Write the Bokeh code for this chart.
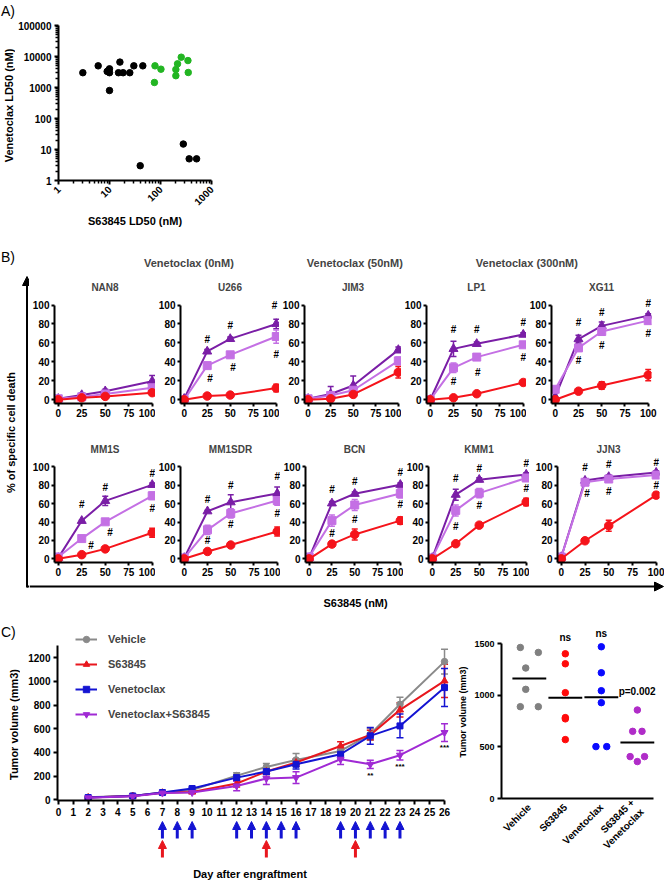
import math
from bokeh.plotting import figure
from bokeh.layouts import row, column
from bokeh.models import (Range1d, FixedTicker, Legend, LegendItem, Whisker,
                          ColumnDataSource, TeeHead, NormalHead, Arrow, NumeralTickFormatter)
from bokeh.core.properties import value
from bokeh.embed import file_html
from bokeh.resources import INLINE

FONT = "Liberation Sans"

# ---------------- Panel A data ----------------
a_black_x = [3, 6, 9, 9.5, 10, 10, 10, 16, 15, 18.5, 25, 30, 45, 40, 280, 365, 510]
a_black_y = [3000, 5000, 3300, 3500, 4000, 3000, 800, 6600, 3000, 3000, 3000, 5000, 5000, 3, 15, 5, 5]
a_green_x = [78, 102, 76, 200, 216, 200, 255, 345, 350]
a_green_y = [5000, 3900, 1450, 3800, 5800, 2400, 9500, 7400, 3050]
a_xticks = [1, 10, 100, 1000]
a_yticks = [1, 10, 100, 1000, 10000, 100000]

# ---------------- Panel B data ----------------
conc = [0, 25, 50, 100]
b_top = ["NAN8", "U266", "JIM3", "LP1", "XG11"]
b_bottom = ["MM1S", "MM1SDR", "BCN", "KMM1", "JJN3"]
b_labels = ["Venetoclax (0nM)", "Venetoclax (50nM)", "Venetoclax (300nM)"]
b_xticks = [0, 25, 50, 75, 100]
b_yticks = [0, 20, 40, 60, 80, 100]

ven0 = {
    "NAN8": [0, 2, 3.5, 7.4], "U266": [0, 3.9, 4.9, 12.3], "JIM3": [0, 1, 5.6, 29],
    "LP1": [0, 2, 6.3, 18.2], "XG11": [0, 9, 15, 26], "MM1S": [0, 4.5, 10.8, 28.3],
    "MM1SDR": [0, 8, 15, 29.7], "BCN": [0, 16, 26.5, 41.5], "KMM1": [0, 16.4, 36.6, 61.7],
    "JJN3": [0, 19.6, 36, 69.2]}
ven50 = {
    "NAN8": [1, 3, 6, 12.6], "U266": [0, 36, 47.4, 66.7], "JIM3": [1, 4.5, 10, 41],
    "LP1": [0, 33.7, 45, 58], "XG11": [11, 54.7, 72, 83.5], "MM1S": [2, 22, 40.2, 68.5],
    "MM1SDR": [1, 31.5, 49.3, 63.3], "BCN": [2, 41.5, 58.5, 71], "KMM1": [1, 52.6, 71.4, 87.8],
    "JJN3": [2, 83.2, 86.7, 91]}
ven300 = {
    "NAN8": [1, 5, 9, 19.6], "U266": [1, 51, 64.2, 80], "JIM3": [1, 6, 15, 52.6],
    "LP1": [0, 53.7, 59, 68.8], "XG11": [3, 64, 78, 88.8], "MM1S": [1, 41.3, 63, 80.4],
    "MM1SDR": [1, 51.7, 61.5, 71], "BCN": [1, 60.3, 70.7, 80.5], "KMM1": [1, 69.7, 86, 91.6],
    "JJN3": [2, 85, 89, 93.7]}
ven0_err = {
    "NAN8": [0, 1, 1, 2], "U266": [0, 1, 1, 4], "JIM3": [0, 1, 2, 6], "LP1": [0, 1, 1, 1],
    "XG11": [0, 2, 4, 6], "MM1S": [0, 1, 1, 5], "MM1SDR": [0, 1, 1, 5], "BCN": [0, 2, 6, 4],
    "KMM1": [0, 2, 2, 4], "JJN3": [0, 2, 6, 3]}
ven50_err = {
    "NAN8": [0, 1, 2, 3], "U266": [0, 3, 3, 7], "JIM3": [0, 3, 4, 4], "LP1": [0, 5, 2, 2],
    "XG11": [0, 2, 4, 3], "MM1S": [0, 3, 2, 4], "MM1SDR": [0, 5, 5, 5], "BCN": [0, 6, 6, 5],
    "KMM1": [0, 6, 5, 3], "JJN3": [0, 2, 2, 2]}
ven300_err = {
    "NAN8": [0, 2, 2, 6], "U266": [0, 2, 2, 5], "JIM3": [0, 8, 10, 3], "LP1": [0, 8, 2, 2],
    "XG11": [0, 4, 4, 2], "MM1S": [0, 1, 5, 2], "MM1SDR": [0, 1, 8, 7], "BCN": [0, 2, 2, 2],
    "KMM1": [0, 6, 2, 2], "JJN3": [0, 2, 2, 2]}
hash_x = {
    "U266": [25, 28, 50, 53, 98, 100], "LP1": [25, 25, 50, 51, 100, 100],
    "XG11": [25, 25, 50, 50, 100, 100], "MM1S": [25, 35, 50, 55, 100, 100],
    "MM1SDR": [25, 25, 50, 50, 100, 100], "BCN": [25, 25, 50, 50, 100, 100],
    "KMM1": [25, 25, 50, 50, 100, 100], "JJN3": [25, 27, 50, 50, 100, 100]}
hash_y = {
    "U266": [64, 22, 78, 34, 99, 48], "LP1": [74, 19, 74, 29, 82, 45],
    "XG11": [82, 41, 92, 57, 102, 69.5], "MM1S": [59, 15, 78, 29, 93, 54.5],
    "MM1SDR": [64, 20, 80, 37, 89.5, 49], "BCN": [75, 28, 84, 43, 94, 58.5],
    "KMM1": [87, 35, 98, 58, 104, 76], "JJN3": [99, 71, 102, 73, 105, 80]}

# ---------------- Panel C data ----------------
days = [2, 5, 7, 9, 12, 14, 16, 19, 21, 23, 26]
c_labels = ["Vehicle", "S63845", "Venetoclax", "Venetoclax+S63845"]
vehicle = [22, 34, 62, 84, 205, 278, 337, 413, 553, 806, 1166]
vehicle_err = [5, 5, 8, 10, 25, 30, 55, 40, 50, 60, 105]
s63845 = [20, 32, 60, 67, 138, 239, 315, 455, 548, 759, 1003]
s63845_err = [5, 5, 8, 10, 30, 25, 30, 35, 40, 60, 140]
venetoclax = [20, 33, 62, 96, 188, 239, 300, 385, 540, 624, 947]
venetoclax_err = [5, 5, 8, 10, 25, 25, 40, 40, 70, 100, 160]
combo = [18, 30, 58, 62, 118, 180, 188, 343, 300, 377, 568]
combo_err = [5, 5, 8, 10, 40, 50, 50, 45, 35, 40, 75]
c_day_ticks = list(range(27))
c_yticks = [0, 200, 400, 600, 800, 1000, 1200]
blue_dose_days = [7, 8, 9, 12, 13, 14, 15, 16, 19, 20, 21, 22, 23]
red_dose_days = [7, 14, 20]
sig_days = [21, 23, 26]
sig_vals = [202, 278, 438]
sig_text = ["**", "***", "***"]

d_categories = ["Vehicle", "S63845", "Venetoclax", "S63845 +\nVenetoclax"]
d_vehicle = [1464, 1416, 1265, 1058, 890, 890]
d_s63845 = [1403, 1306, 1026, 784, 772, 571]
d_venetoclax = [1471, 1219, 1045, 929, 503, 503]
d_combo = [858, 651, 651, 406, 406, 358]
d_means = [1163, 977, 982, 544]
d_yticks = [0, 500, 1000, 1500]
d_stats = ["ns", "ns", "p=0.002"]
d_stat_y = [1561, 1600, 1038]
# horizontal spread of coincident dots (layout only)
d_spread = [[-0.25, 0.25, -0.1, -0.1, -0.25, 0.25], [0, 0, 0, 0, 0, 0],
            [0, 0, 0, 0, -0.15, 0.15], [0, -0.13, 0.13, -0.2, 0.2, 0]]

# ---------------- colours ----------------
GREEN = "#22b522"
B_RED, B_LIGHT, B_DARK = "#f5141b", "#c470e4", "#7a1ea6"
C_GRAY, C_RED, C_BLUE, C_PURPLE = "#8a8a8a", "#e8171e", "#1414d2", "#a02ad4"
D_COLORS = ["#808080", "#ff0a0a", "#0a0aff", "#b02cc8"]

# ---------------- layout helpers (pixel geometry of the page) ----------------


def PX(v):
    return int(round(v))


def PY(v):
    return int(round(v))


def make_fig(box, frame, **kw):
    x0, y0, x1, y1 = box
    fl, ft, fr, fb = frame
    p = figure(width=PX(x1) - PX(x0), height=PY(y1) - PY(y0),
               min_border_left=PX(fl) - PX(x0), min_border_right=PX(x1) - PX(fr),
               min_border_top=PY(ft) - PY(y0), min_border_bottom=PY(y1) - PY(fb),
               output_backend="svg", toolbar_location=None, **kw)
    p.outline_line_color = None
    p.background_fill_color = None
    p.border_fill_color = None
    for g in p.grid:
        g.visible = False
    return p


def deco_fig(box):
    x0, y0, x1, y1 = box
    return make_fig(box, box, x_range=Range1d(x0, x1), y_range=Range1d(y1, y0),
                    x_axis_location=None, y_axis_location=None)


def txt(p, x, y, s, size="11px", bold=True, align="center", baseline="middle", angle=0.0):
    p.text(x=[x], y=[y], text=[s], angle=angle, text_font=value(FONT),
           text_font_style="bold" if bold else "normal", text_font_size=size,
           text_align=align, text_baseline=baseline, text_color="black")


def style_axes(p, tick_size="10px", label_size="11px", tick_out=4, standoff=3):
    for ax in p.axis:
        ax.axis_line_width = 2
        ax.axis_line_color = "black"
        ax.major_tick_line_width = 2
        ax.major_tick_line_color = "black"
        ax.major_tick_out = tick_out
        ax.major_tick_in = 0
        ax.minor_tick_line_color = None
        ax.major_label_standoff = standoff
        ax.major_label_text_font = FONT
        ax.major_label_text_font_style = "bold"
        ax.major_label_text_font_size = tick_size
        ax.major_label_text_color = "black"
        ax.axis_label_text_font = FONT
        ax.axis_label_text_font_style = "bold"
        ax.axis_label_text_font_size = label_size
        ax.axis_label_text_color = "black"
        ax.axis_label_standoff = 3


def whisker(p, xs, vals, errs, color, size=6, width=1.5):
    xs2 = [x for x, e in zip(xs, errs) if e > 0]
    up = [v + e for v, e in zip(vals, errs) if e > 0]
    lo = [v - e for v, e in zip(vals, errs) if e > 0]
    if not xs2:
        return
    src = ColumnDataSource(dict(x=xs2, u=up, l=lo))
    p.add_layout(Whisker(source=src, base="x", upper="u", lower="l", line_color=color,
                         line_width=width, level="underlay",
                         upper_head=TeeHead(size=size, line_color=color, line_width=width),
                         lower_head=TeeHead(size=size, line_color=color, line_width=width)))


def minor_log(lo, hi):
    out = []
    d = lo
    while d < hi:
        out += [m * d for m in range(2, 10)]
        d *= 10
    return out


# ================= Panel A =================
sa = deco_fig((0, 0, 15, 245))
txt(sa, 0.5, 2, "A)", size="14px", bold=False, align="left", baseline="top")
txt(sa, 8, 105, "Venetoclax LD50 (nM)", angle=math.pi / 2)

pa = make_fig((15, 0, 664, 245), (57, 25, 211, 180), x_axis_type="log", y_axis_type="log",
              x_range=Range1d(1, 1000), y_range=Range1d(1, 100000))
pa.scatter(a_black_x, a_black_y, size=6.5, color="black")
pa.scatter(a_green_x, a_green_y, size=6.5, color=GREEN)
style_axes(pa)
pa.xaxis.ticker = FixedTicker(ticks=a_xticks, minor_ticks=minor_log(1, 1000))
pa.yaxis.ticker = FixedTicker(ticks=a_yticks, minor_ticks=minor_log(1, 100000))
for ax in pa.axis:
    ax.formatter = NumeralTickFormatter(format="0")
    ax.minor_tick_line_color = "black"
    ax.minor_tick_line_width = 1.5
    ax.minor_tick_out = 3
    ax.minor_tick_in = 0
for ax in pa.xaxis:
    ax.major_label_orientation = math.pi / 4
    ax.axis_label = "S63845 LD50 (nM)"
band_a = row(column(sa), column(pa))

# ================= Panel B =================
K = 0.95


def b_fig(name, x0, box_l, box_r, y100, box_t, box_b):
    zero = y100 + 100 * K
    frame = (x0 - 4 * K, y100 - 9 * K, min(box_r, x0 + 103.5 * K), zero + 4 * K)
    p = make_fig((box_l, box_t, box_r, box_b), frame,
                 x_range=Range1d(-4, 103.5), y_range=Range1d(-4, 109), title=name)
    p.title.align = "center"
    p.title.text_font = FONT
    p.title.text_font_style = "bold"
    p.title.text_font_size = "10px"
    p.title.standoff = 7
    style_axes(p, tick_out=3, standoff=2)
    p.xaxis.ticker = FixedTicker(ticks=b_xticks)
    p.yaxis.ticker = FixedTicker(ticks=b_yticks)
    p.xaxis.bounds = (-4, 100)
    p.yaxis.bounds = (-4, 100)
    series = [(ven300[name], ven300_err[name], B_DARK, "triangle", 9),
              (ven50[name], ven50_err[name], B_LIGHT, "square", 8),
              (ven0[name], ven0_err[name], B_RED, "circle", 8.5)]
    for vals, errs, col, mk, sz in series:
        whisker(p, conc, vals, errs, col, size=6)
        p.line(conc, vals, color=col, line_width=2)
        p.scatter(conc, vals, marker=mk, size=sz, color=col)
    if name in hash_x:
        p.text(hash_x[name], hash_y[name], text=["#"] * len(hash_x[name]),
               text_font=value(FONT), text_font_style="bold", text_font_size="10px",
               text_align="center", text_baseline="middle", text_color="black")
    return p


def b_row(names, x0s, y100s, box_t, box_b):
    bounds = [29] + [x + 103.5 * K for x in x0s[:-1]] + [664]
    return [b_fig(n, x0, bounds[i], bounds[i + 1], y100s[i], box_t, box_b)
            for i, (n, x0) in enumerate(zip(names, x0s))]


top_figs = b_row(b_top, [57, 181, 303, 428, 553], [304.5] * 5, 270, 421)
bot_figs = b_row(b_bottom, [57, 182, 305, 431, 561], [464, 463, 463, 463, 467], 421, 581)

# legend strip
lg = deco_fig((29, 245, 664, 270))
lrs = [lg.line(x=[], y=[], color=c, line_width=4) for c in (B_RED, B_LIGHT, B_DARK)]
lg.add_layout(Legend(items=[LegendItem(label=t, renderers=[r]) for t, r in zip(b_labels, lrs)],
                     orientation="horizontal", location=(PX(108) - PX(29), 0),
                     glyph_width=25, glyph_height=14, label_standoff=11, spacing=37,
                     padding=0, margin=0, border_line_color=None, background_fill_alpha=0,
                     label_text_font=FONT, label_text_font_style="bold", label_text_font_size="11px"))

# left strip with vertical arrow
ls = deco_fig((0, 245, 29, 612))
txt(ls, 0.5, 248, "B)", size="14px", bold=False, align="left", baseline="top")
ls.add_layout(Arrow(x_start=26.5, y_start=587, x_end=26.5, y_end=276, line_width=2, line_color="black",
                    end=NormalHead(size=9, fill_color="black", line_color="black", line_width=1)))
ls.segment(x0=[26.5], y0=[586], x1=[29], y1=[586], line_width=2, color="black")
txt(ls, 10.5, 432, "% of specific cell death", angle=math.pi / 2)

# bottom strip with horizontal arrow
bs = deco_fig((29, 581, 664, 612))
bs.add_layout(Arrow(x_start=29, y_start=586, x_end=663, y_end=586, line_width=2, line_color="black",
                    end=NormalHead(size=9, fill_color="black", line_color="black", line_width=1)))
txt(bs, 323, 602, "S63845 (nM)", align="left")

band_b = row(column(ls), column(lg, row(*top_figs), row(*bot_figs), bs))

# ================= Panel C (lines) =================
sc = deco_fig((0, 612, 20, 880))
txt(sc, 0.5, 623, "C)", size="14px", bold=False, align="left", baseline="top")
txt(sc, 13, 724, "Tumor volume (mm3)", angle=math.pi / 2)

pc = make_fig((20, 612, 455, 820), (57, 626, 451, 799.6),
              x_range=Range1d(-0.067, 26.47), y_range=Range1d(-5, 1462))
style_axes(pc)
pc.xaxis.ticker = FixedTicker(ticks=c_day_ticks)
pc.yaxis.ticker = FixedTicker(ticks=c_yticks)
pc.xaxis.bounds = (-0.067, 26)
pc.yaxis.bounds = (-5, 1300)
c_series = [(vehicle, vehicle_err, C_GRAY, "circle", 6.5),
            (s63845, s63845_err, C_RED, "triangle", 7),
            (venetoclax, venetoclax_err, C_BLUE, "square", 6),
            (combo, combo_err, C_PURPLE, "inverted_triangle", 7)]
items = []
for (vals, errs, col, mk, sz), lab in zip(c_series, c_labels):
    whisker(pc, days, vals, errs, col, size=7, width=1.5)
    l = pc.line(days, vals, color=col, line_width=2)
    s = pc.scatter(days, vals, marker=mk, size=sz, color=col)
    items.append(LegendItem(label=lab, renderers=[l, s]))
pc.add_layout(Legend(items=items, location=(PX(75) - PX(57), PY(799.6) - PY(722)),
                     glyph_width=22, glyph_height=16, spacing=9, label_standoff=11,
                     padding=0, margin=0, border_line_color=None, background_fill_alpha=0,
                     label_text_font=FONT, label_text_font_style="bold", label_text_font_size="11px"))
pc.text(sig_days, sig_vals, text=sig_text, text_font=value(FONT), text_font_style="bold",
        text_font_size="8px", text_align="center", text_baseline="middle")

# dosing arrows strip
pst = make_fig((20, 820, 455, 880), (57, 820, 451, 880), x_range=pc.x_range, y_range=Range1d(880, 820),
               x_axis_location=None, y_axis_location=None)
for dd, col, ys, ye in [(blue_dose_days, C_BLUE, 838, 821), (red_dose_days, C_RED, 857, 840)]:
    src = ColumnDataSource(dict(x=dd, ys=[ys] * len(dd), ye=[ye] * len(dd)))
    pst.add_layout(Arrow(source=src, x_start="x", y_start="ys", x_end="x", y_end="ye",
                         line_color=col, line_width=3,
                         end=NormalHead(size=8, fill_color=col, line_color=col, line_width=1)))
pst.text(x=[12.9], y=[873], text=["Day after engraftment"], text_font=value(FONT),
         text_font_style="bold", text_font_size="11px", text_align="center", text_baseline="middle")

# ================= Panel C (dots) =================
pdot = make_fig((455, 612, 664, 880), (500, 625, 660, 798),
                x_range=Range1d(0.227, 4.643), y_range=Range1d(0, 1677))
style_axes(pdot, tick_size="9px", label_size="9px")
pdot.yaxis.ticker = FixedTicker(ticks=d_yticks)
pdot.yaxis.bounds = (0, 1500)
pdot.yaxis.axis_label = "Tumor volume (mm3)"
pdot.xaxis.ticker = FixedTicker(ticks=[1, 2, 3, 4])
pdot.xaxis.major_label_overrides = {i + 1: c for i, c in enumerate(d_categories)}
pdot.xaxis.major_label_orientation = math.pi / 4
pdot.xaxis.major_label_text_font_size = "10px"
pdot.xaxis.major_tick_line_color = None
pdot.xaxis.bounds = (0.227, 4.45)
for i, (vals, col) in enumerate(zip([d_vehicle, d_s63845, d_venetoclax, d_combo], D_COLORS)):
    pdot.scatter([i + 1 + o for o in d_spread[i]], vals, size=6.5, color=col)
pdot.segment(x0=[i + 1 - 0.47 for i in range(4)], x1=[i + 1 + 0.47 for i in range(4)],
             y0=d_means, y1=d_means, line_width=2, color="black")
pdot.text([2, 3], d_stat_y[:2], text=d_stats[:2], text_font=value(FONT), text_font_style="bold",
          text_font_size="10px", text_align="center", text_baseline="middle")
pdot.text([3.48], d_stat_y[2:], text=d_stats[2:], text_font=value(FONT), text_font_style="bold",
          text_font_size="10px", text_align="left", text_baseline="middle")

band_c = row(column(sc), column(pc, pst), column(pdot))

# ================= assemble =================
layout = column(band_a, band_b, band_c)

open("out.html", "w").write(file_html(layout, INLINE))
